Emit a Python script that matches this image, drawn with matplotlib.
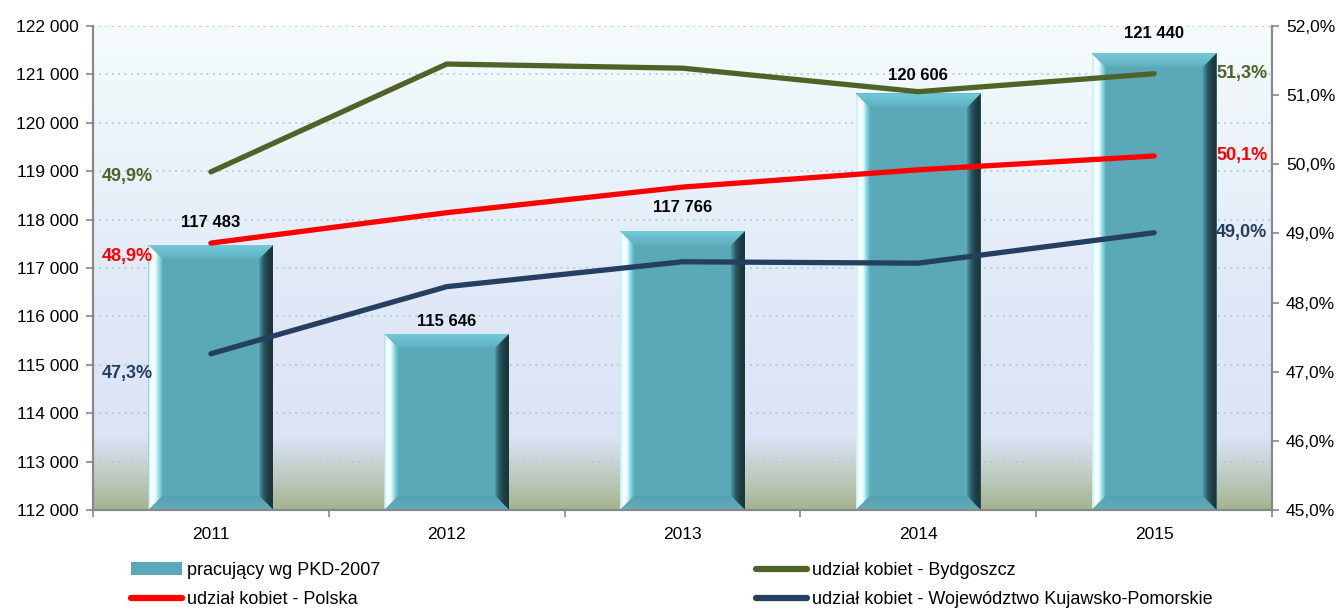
import matplotlib
matplotlib.use("Agg")
import matplotlib.pyplot as plt
import numpy as np
from matplotlib.patches import Polygon, Rectangle
from matplotlib.lines import Line2D
from matplotlib.colors import LinearSegmentedColormap
from matplotlib.ticker import FuncFormatter, MultipleLocator

# ---- data ----
years = ["2011", "2012", "2013", "2014", "2015"]
pracujacy = [117483, 115646, 117766, 120606, 121440]
bydgoszcz = [49.89, 51.45, 51.39, 51.05, 51.31]
polska = [48.86, 49.30, 49.67, 49.92, 50.12]
kujawsko = [47.26, 48.23, 48.59, 48.57, 49.01]

bar_label_offsets = [22, 12, 23, 18, 20]   # px above bar top

FONT = ["Liberation Sans Narrow", "Liberation Sans", "DejaVu Sans"]
plt.rcParams["font.family"] = FONT

C_BAR = "#5BA8B8"
C_BYD = "#4F6228"
C_POL = "#FF0000"
C_KP = "#243F60"

fig = plt.figure(figsize=(13.41, 6.10), dpi=100)
W, H = 1341, 610
ax = fig.add_axes([93 / W, 1 - 510 / H, (1272 - 93) / W, (510 - 26) / H])
ax2 = ax.twinx()

YMIN, YMAX = 112000, 122000
ax.set_xlim(-0.5, 4.5)
ax.set_ylim(YMIN, YMAX)
ax2.set_ylim(45, 52)

# background gradient
bg = LinearSegmentedColormap.from_list("bg", [
    (0.0, "#A3B48F"), (0.06, "#BCC8BB"), (0.15, "#DCE3F5"),
    (0.45, "#E1E9F8"), (0.80, "#EDF5FA"), (1.0, "#F6FCFC")])
grad = np.linspace(0, 1, 256).reshape(-1, 1)
ax.imshow(grad, cmap=bg, origin="lower", extent=[0, 1, 0, 1],
          transform=ax.transAxes, aspect="auto", zorder=0)

# grid
for v in range(YMIN, YMAX + 1, 1000):
    ax.axhline(v, color="#A2D0DE", lw=1.3, ls=(0, (1, 2.5)), zorder=1)

# bars with bevels
x = np.arange(len(years))
bw = 0.53
px_x = 5 / 1179.0             # data units per pixel in x
px_y = (YMAX - YMIN) / 484.0  # data units per pixel in y
dx = 14 * px_x
dy = 14 * px_y


def grad_fill(poly_xy, colors, horizontal=True, z=3):
    poly = Polygon(poly_xy, closed=True, facecolor="none", edgecolor="none")
    ax.add_patch(poly)
    xs = [p[0] for p in poly_xy]
    ys = [p[1] for p in poly_xy]
    cm = LinearSegmentedColormap.from_list("g", colors)
    g = np.linspace(0, 1, 128)
    arr = g.reshape(1, -1) if horizontal else g.reshape(-1, 1)
    im = ax.imshow(arr, cmap=cm, origin="lower",
                   extent=[min(xs), max(xs), min(ys), max(ys)],
                   aspect="auto", zorder=z, interpolation="bilinear")
    im.set_clip_path(poly)


for i, (xi, v) in enumerate(zip(x, pracujacy)):
    x0, x1 = xi - bw / 2, xi + bw / 2
    y0, y1 = YMIN, v
    ax.bar(xi, v - YMIN, bottom=YMIN, width=bw, color=C_BAR, zorder=2)
    # left highlight
    grad_fill([(x0, y0), (x0, y1), (x0 + dx, y1 - dy), (x0 + dx, y0 + dy)],
              ["#B8F2F6", "#FFFFFF", "#E8FEFF", "#86DCE6", "#5EB0BE"])
    # right shadow
    grad_fill([(x1, y0), (x1, y1), (x1 - dx, y1 - dy), (x1 - dx, y0 + dy)],
              ["#4E95A2", "#2E5960", "#1E3C42", "#1C3539"])
    # top bevel
    grad_fill([(x0, y1), (x1, y1), (x1 - dx, y1 - dy), (x0 + dx, y1 - dy)],
              ["#5FB0BF", "#74CAD9"], horizontal=False)
    # bottom bevel
    grad_fill([(x0, y0), (x1, y0), (x1 - dx, y0 + dy), (x0 + dx, y0 + dy)],
              ["#62AEBC", "#55A0AF"], horizontal=False)

ax.set_xlim(-0.5, 4.5)
ax.set_ylim(YMIN, YMAX)

# lines
for vals, col in [(bydgoszcz, C_BYD), (polska, C_POL), (kujawsko, C_KP)]:
    ax2.plot(x, vals, color=col, lw=3.8, solid_capstyle="round",
             solid_joinstyle="round", zorder=5)

ax2.set_zorder(ax.get_zorder() + 1)
ax2.patch.set_visible(False)

# bar value labels (on top of lines)
for i, (xi, v) in enumerate(zip(x, pracujacy)):
    ax2.annotate(f"{v:,}".replace(",", " "), (xi, v), xycoords=ax.transData,
                 xytext=(0, bar_label_offsets[i]), textcoords="offset pixels",
                 ha="center", va="center", fontsize=12, fontweight="bold",
                 color="black", zorder=7)

left_lbl_dy = [-5, -13, -20]
for vals, col, ddy in zip([bydgoszcz, polska, kujawsko], [C_BYD, C_POL, C_KP], left_lbl_dy):
    ax2.annotate(f"{vals[0]:.1f}%".replace(".", ","), (x[0], vals[0]),
                 xytext=(-58, ddy), textcoords="offset pixels", ha="right",
                 va="center", fontsize=13, fontweight="bold", color=col, zorder=7)
    ax2.annotate(f"{vals[-1]:.1f}%".replace(".", ","), (x[-1], vals[-1]),
                 xytext=(62, 0), textcoords="offset pixels", ha="left",
                 va="center", fontsize=13, fontweight="bold", color=col, zorder=7)

# axes styling
ax.yaxis.set_major_locator(MultipleLocator(1000))
ax.yaxis.set_major_formatter(FuncFormatter(lambda v, p: f"{int(v):,}".replace(",", " ")))
ax2.yaxis.set_major_locator(MultipleLocator(1))
ax2.yaxis.set_major_formatter(FuncFormatter(lambda v, p: f"{v:.1f}%".replace(".", ",")))
ax.set_xticks(x)
ax.set_xticklabels(years)
ax.set_xticks(np.arange(-0.5, 5.0, 1.0), minor=True)
ax.tick_params(axis="x", which="major", length=0, labelsize=12.5, pad=12)
ax.tick_params(axis="x", which="minor", length=5, color="#888888", width=1.2)
ax.tick_params(axis="y", length=5, color="#888888", width=1.2, labelsize=12.5, pad=5)
ax2.tick_params(axis="y", length=5, color="#888888", width=1.2, labelsize=12.5, pad=5)

for a in (ax, ax2):
    a.spines["top"].set_visible(False)
    for s in ("left", "right", "bottom"):
        a.spines[s].set_color("#888888")
        a.spines[s].set_linewidth(1.5)

# legends
h_bar = Rectangle((0, 0), 1, 1, facecolor=C_BAR, edgecolor="none")
h_pol = Line2D([], [], color=C_POL, lw=4.5, solid_capstyle="round")
h_byd = Line2D([], [], color=C_BYD, lw=4.5, solid_capstyle="round")
h_kp = Line2D([], [], color=C_KP, lw=4.5, solid_capstyle="round")

common = dict(loc="upper left", frameon=False, fontsize=13, handlelength=2.8,
              handletextpad=0.3, labelspacing=0.68, borderpad=0, handleheight=0.75)
leg1 = fig.legend([h_bar, h_pol], ["pracujący wg PKD-2007", "udział kobiet - Polska"],
                  bbox_to_anchor=(122 / W, 1 - 553 / H), **common)
leg2 = fig.legend([h_byd, h_kp], ["udział kobiet - Bydgoszcz",
                                  "udział kobiet - Województwo Kujawsko-Pomorskie"],
                  bbox_to_anchor=(747 / W, 1 - 553 / H), **common)

fig.savefig("out.png", dpi=100)
